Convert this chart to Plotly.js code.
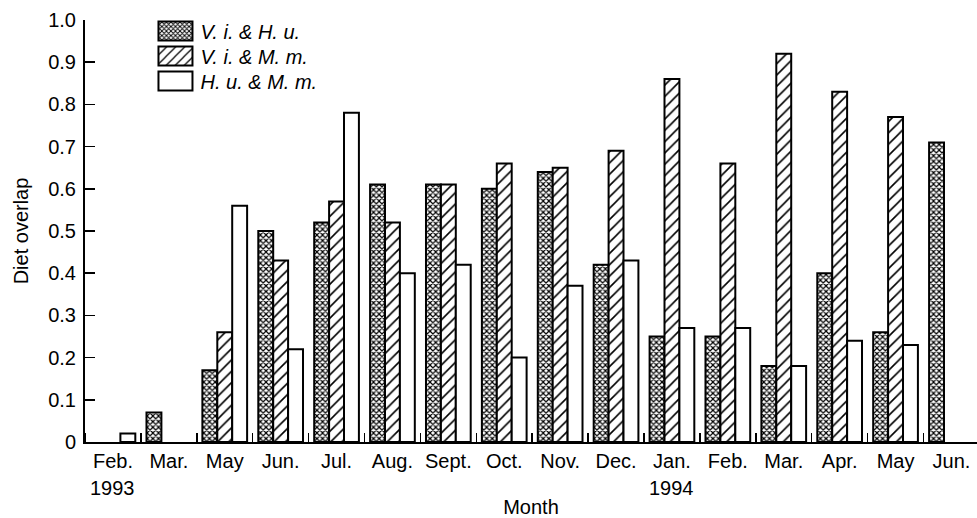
<!DOCTYPE html>
<html>
<head>
<meta charset="utf-8">
<script src="https://cdn.plot.ly/plotly-3.0.1.min.js"></script>
<style>
  html, body { margin: 0; padding: 0; background: #fff; }
  #chart { width: 977px; height: 518px; }
</style>
</head>
<body>
<div id="chart"></div>
<script>
// Monthly sampling periods, Feb. 1993 to Jun. 1994
const months = ["Feb.", "Mar.", "May", "Jun.", "Jul.", "Aug.", "Sept.", "Oct.",
                "Nov.", "Dec.", "Jan.", "Feb.", "Mar.", "Apr.", "May", "Jun."];
const yearIndex = [0, 10];
const yearText = ["1993", "1994"];

// Diet overlap for each species pair (null = not sampled)
const viHu = [null, 0.07, 0.17, 0.50, 0.52, 0.61, 0.61, 0.60, 0.64, 0.42, 0.25, 0.25, 0.18, 0.40, 0.26, 0.71];
const viMm = [null, null, 0.26, 0.43, 0.57, 0.52, 0.61, 0.66, 0.65, 0.69, 0.86, 0.66, 0.92, 0.83, 0.77, null];
const huMm = [0.02, null, 0.56, 0.22, 0.78, 0.40, 0.42, 0.20, 0.37, 0.43, 0.27, 0.27, 0.18, 0.24, 0.23, null];

const yTickVals = [0, 0.1, 0.2, 0.3, 0.4, 0.5, 0.6, 0.7, 0.8, 0.9, 1.0];
const yTickText = ["0", "0.1", "0.2", "0.3", "0.4", "0.5", "0.6", "0.7", "0.8", "0.9", "1.0"];

const FONT = "Liberation Sans, Arial, Helvetica, sans-serif";
const FS = 20;
const idx = months.map((_, i) => i);
const outline = { color: "#000", width: 2 };

const traces = [
  {
    type: "bar", name: "<i>V. i.</i> & <i>H. u.</i>", x: idx, y: viHu,
    marker: { color: "#fff", line: outline,
              pattern: { shape: "x", size: 4, solidity: 0.5, fgcolor: "#000", bgcolor: "#fff" } }
  },
  {
    type: "bar", name: "<i>V. i.</i> & <i>M. m.</i>", x: idx, y: viMm,
    marker: { color: "#fff", line: outline,
              pattern: { shape: "/", size: 8, solidity: 0.2, fgcolor: "#000", bgcolor: "#fff" } }
  },
  {
    type: "bar", name: "<i>H. u.</i> & <i>M. m.</i>", x: idx, y: huMm,
    marker: { color: "#fff", line: outline }
  }
];

const annotations = yearIndex.map((xi, k) => ({
  x: xi, y: -0.109, xref: "x", yref: "paper",
  text: yearText[k], showarrow: false,
  xanchor: "center", yanchor: "middle",
  font: { family: FONT, size: FS, color: "#000" }
}));

const layout = {
  width: 977, height: 518,
  margin: { l: 85, r: 0, t: 20, b: 76 },
  paper_bgcolor: "#fff", plot_bgcolor: "#fff",
  font: { family: FONT, size: FS, color: "#000" },
  barmode: "group", bargap: 0.2, bargroupgap: 0,
  showlegend: true,
  legend: {
    x: 0.0734, y: 1.02, xanchor: "left", yanchor: "top",
    bgcolor: "rgba(0,0,0,0)", borderwidth: 0,
    itemwidth: 40, tracegroupgap: 0,
    font: { family: FONT, size: FS, color: "#000", style: "italic" }
  },
  xaxis: {
    range: [-0.5, 15.457], fixedrange: true,
    tickmode: "array", tickvals: idx, ticktext: months,
    ticks: "", showgrid: false, zeroline: false,
    showline: true, linecolor: "#000", linewidth: 2,
    minor: { tick0: 0.5, dtick: 1, ticks: "inside", ticklen: 9, tickwidth: 1.5, tickcolor: "#000", showgrid: false },
    tickfont: { family: FONT, size: FS, color: "#000" },
    title: { text: "Month", standoff: 34, font: { family: FONT, size: FS, color: "#000" } }
  },
  yaxis: {
    range: [0, 1.0], fixedrange: true,
    tickmode: "array", tickvals: yTickVals, ticktext: yTickText,
    ticks: "inside", ticklen: 10, tickwidth: 1.5, tickcolor: "#000",
    ticklabelstandoff: 3,
    showgrid: false, zeroline: false,
    showline: true, linecolor: "#000", linewidth: 2,
    tickfont: { family: FONT, size: FS, color: "#000" },
    title: { text: "Diet overlap", standoff: 14, font: { family: FONT, size: FS, color: "#000" } }
  },
  annotations: annotations
};

Plotly.newPlot("chart", traces, layout, { staticPlot: true, displayModeBar: false }).then(() => {
  // wider key boxes and a tighter key row spacing
  document.querySelectorAll("#chart .legend .legendpoints path").forEach(p => {
    p.setAttribute("d", "M17,9.5H-17V-9.5H17Z");
  });
  const rows = document.querySelectorAll("#chart .legend .traces");
  if (rows.length) {
    const m = /translate\(\s*([-\d.]+)[ ,]+([-\d.]+)\s*\)/.exec(rows[0].getAttribute("transform") || "");
    if (m) {
      const x0 = parseFloat(m[1]), y0 = parseFloat(m[2]);
      rows.forEach((r, i) => r.setAttribute("transform", `translate(${x0},${y0 + 25 * i})`));
    }
  }
});
</script>
</body>
</html>
